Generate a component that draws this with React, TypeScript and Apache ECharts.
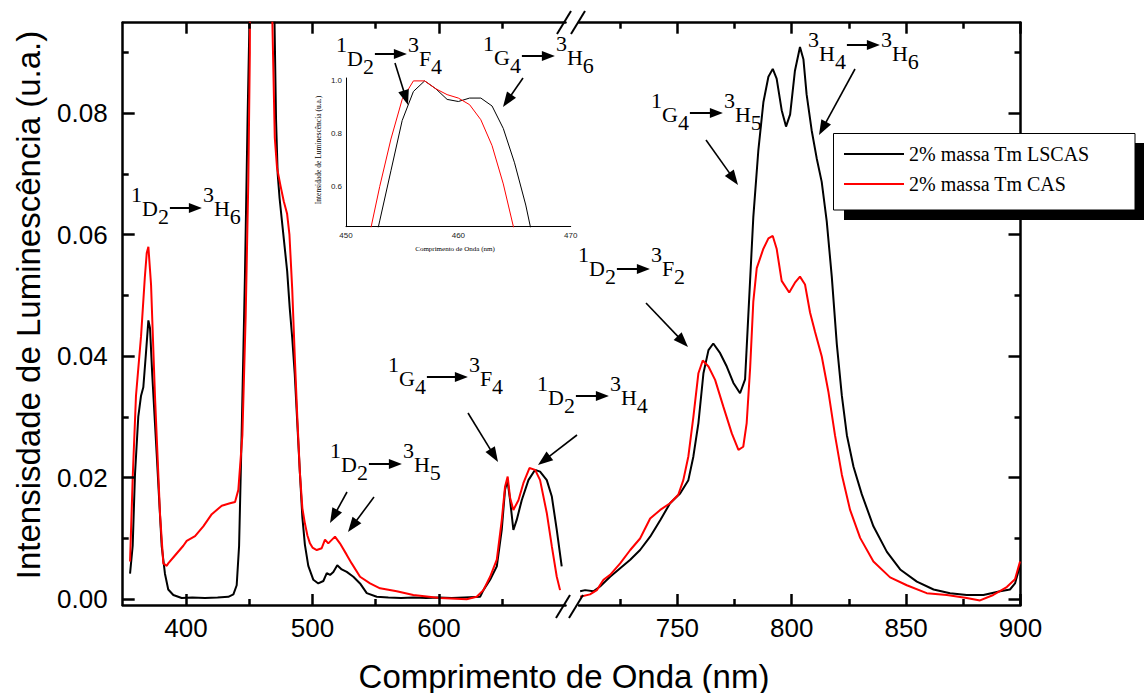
import React, { useEffect, useRef } from 'react';
import * as echarts from 'echarts';

// ---------------- DATA ----------------
const seriesNames = ['2% massa Tm LSCAS', '2% massa Tm CAS'];

const lscasLeft: [number, number][] = [
  [355.8, 0.0042], [357.9, 0.0088], [359.7, 0.0205], [362.3, 0.030], [364.5, 0.0335], [366.3, 0.0349],
  [368.2, 0.040], [370.3, 0.0459], [371.6, 0.0446], [373.4, 0.0368], [376.9, 0.0238], [380.8, 0.0088],
  [383.4, 0.0042], [386, 0.0016], [390, 0.0007], [396.6, 0.0002], [405, 0.0003], [415, 0.0002],
  [425, 0.0003], [433.5, 0.0004], [437.5, 0.0008], [440.1, 0.0023], [442, 0.0088], [444, 0.027],
  [446.6, 0.053], [448.7, 0.079], [450, 0.093], [451, 0.12], [452, 0.25], [453, 0.45], [455, 0.85],
  [457, 1.0], [460, 0.92], [462, 0.93], [464, 0.8], [466, 0.5], [467.5, 0.25], [469, 0.13], [470, 0.095],
  [471.2, 0.079], [472.5, 0.07], [474, 0.066], [476, 0.062], [478, 0.058], [480, 0.054], [482, 0.048],
  [484, 0.043], [486, 0.037], [488, 0.029], [490, 0.021], [492, 0.0135], [494, 0.009], [496.7, 0.0055],
  [500.7, 0.0032], [504.6, 0.0026], [508.6, 0.003], [511.3, 0.0043], [513.9, 0.004], [516.5, 0.0045],
  [519.6, 0.0056], [523.1, 0.0049], [527.1, 0.0045], [532.3, 0.0037], [537.6, 0.0026], [542.9, 0.001],
  [550.8, 0.0004], [560, 0.0003], [570, 0.0002], [580, 0.0003], [590, 0.0002], [600, 0.0003],
  [610, 0.0002], [620, 0.0003], [632.5, 0.0004], [635.1, 0.0015], [640.4, 0.0032], [645.7, 0.0054],
  [649.6, 0.0114], [652.2, 0.018], [654.1, 0.0196], [656.2, 0.0163], [658.8, 0.0114], [661.5, 0.0131],
  [665.4, 0.0163], [670.7, 0.0196], [676, 0.0213], [679.9, 0.021], [685.2, 0.0196], [689.2, 0.0169],
  [693.1, 0.0114], [697, 0.0054],
];

const casLeft: [number, number][] = [
  [355.8, 0.0062], [358, 0.0205], [360.5, 0.0335], [364.5, 0.0433], [367.5, 0.053], [369, 0.057],
  [370.3, 0.058], [372.4, 0.0518], [375.5, 0.0335], [379.5, 0.014], [382.1, 0.0059], [384.8, 0.0055],
  [386, 0.0059], [391.3, 0.0072], [397.9, 0.0088], [400.6, 0.0096], [407.2, 0.0104], [413.7, 0.012],
  [420.4, 0.014], [428.3, 0.0154], [434.8, 0.0158], [438.8, 0.016], [441.4, 0.018], [444.6, 0.027],
  [447.2, 0.0466], [449.3, 0.069], [450.5, 0.09], [451, 0.15], [452, 0.4], [454, 0.78], [456, 1.0],
  [457, 1.0], [460, 0.935], [462, 0.85], [464, 0.61], [465, 0.43], [466.5, 0.2], [467.5, 0.12],
  [468.3, 0.095], [470.2, 0.076], [472, 0.071], [474.8, 0.068], [477.3, 0.0655], [479.9, 0.0635],
  [481.8, 0.06], [484, 0.051], [486, 0.040], [488, 0.030], [490, 0.021], [492, 0.015], [494, 0.0125],
  [496, 0.0105], [498, 0.0092], [500, 0.0085], [503.4, 0.0081], [507.3, 0.0084], [509.9, 0.0098],
  [512.5, 0.0092], [517.8, 0.0103], [521.7, 0.0092], [527.1, 0.0073], [531, 0.0059], [537.6, 0.0037],
  [545.5, 0.0026], [553.4, 0.0018], [566.6, 0.0013], [579.7, 0.0007], [600.8, 0.0002], [621.9, 0.0],
  [629.8, 0.0004], [635.1, 0.0015], [640.4, 0.0037], [645.7, 0.0065], [649.6, 0.013], [652.2, 0.0185],
  [654.3, 0.0202], [656.2, 0.0167], [658.8, 0.0147], [662.8, 0.0163], [666.7, 0.0191], [671.5, 0.0216],
  [676, 0.0213], [679.9, 0.0196], [685.2, 0.0142], [689.2, 0.0087], [693.1, 0.0037], [695.7, 0.0015],
];

const lscasRight: [number, number][] = [
  [707.5, 0.0013], [709.7, 0.0015], [713.3, 0.0013], [716.2, 0.0021], [720.6, 0.0037], [725, 0.0051],
  [729.4, 0.0065], [733.7, 0.0081], [738.1, 0.0103], [742.5, 0.013], [746.8, 0.0158], [751.2, 0.0174],
  [754.8, 0.0196], [757, 0.0235], [759.2, 0.029], [761.4, 0.0372], [763.6, 0.041], [765.7, 0.0421],
  [768.7, 0.0405], [771.6, 0.0383], [774.5, 0.0356], [777.4, 0.0339], [779.6, 0.0362], [781, 0.0466],
  [783.2, 0.0629], [785.4, 0.0739], [787.6, 0.0818], [789.8, 0.086], [791.7, 0.0873], [793.4, 0.0857],
  [795.6, 0.0805], [797.5, 0.0778], [799.3, 0.0798], [801.4, 0.087], [803.6, 0.0909], [805.1, 0.0889],
  [806.5, 0.0831], [808.7, 0.0772], [810.9, 0.0726], [813.1, 0.0687], [815.3, 0.0622], [817.5, 0.0531],
  [819.7, 0.042], [821.9, 0.0335], [824.1, 0.027], [827, 0.0218], [830.6, 0.0173], [835.7, 0.012],
  [841.6, 0.0078], [847.4, 0.0049], [854.7, 0.0029], [862, 0.0016], [869.2, 0.001], [876.5, 0.0007],
  [883.8, 0.0007], [891.1, 0.0013], [895.4, 0.0016], [897.6, 0.0026], [899.8, 0.0055],
];

const casRight: [number, number][] = [
  [707.5, 0.0004], [711.8, 0.0008], [714.8, 0.0015], [717.7, 0.0032], [720.6, 0.004], [725, 0.0059],
  [729.4, 0.0081], [733.7, 0.010], [738.1, 0.0133], [742.5, 0.0147], [746.8, 0.0158], [750.4, 0.0172],
  [752.6, 0.0196], [754.8, 0.0235], [757, 0.030], [759.2, 0.0372], [761.1, 0.0393], [763.6, 0.0383],
  [766.5, 0.0361], [770.1, 0.0317], [773.8, 0.0273], [776.7, 0.0246], [778.8, 0.0251], [780.3, 0.029],
  [781.8, 0.038], [783.2, 0.049], [784.7, 0.0545], [787.6, 0.0577], [789.8, 0.0594], [791.7, 0.0598],
  [793.4, 0.0577], [795.6, 0.0524], [798.9, 0.0505], [801.4, 0.0521], [803.6, 0.0531], [805.8, 0.0518],
  [808, 0.0472], [810.2, 0.044], [813.1, 0.040], [816, 0.0342], [818.9, 0.027], [821.9, 0.0205],
  [825.5, 0.0147], [829.9, 0.0101], [835.7, 0.0062], [843, 0.0036], [850.3, 0.0023], [859, 0.001],
  [867.8, 0.0007], [876.5, 0.0002], [882.3, -0.0002], [888.1, 0.0007], [894, 0.002], [897.6, 0.0033],
  [899.8, 0.0062],
];

const lscasInset: [number, number][] = [
  [452, 0.28], [453, 0.47], [454, 0.66], [455, 0.85], [456, 0.96], [457, 1.0], [458, 0.97], [459, 0.93],
  [460, 0.922], [461, 0.935], [462, 0.935], [463, 0.905], [464, 0.82], [465, 0.69], [466, 0.53], [467, 0.33],
];
const casInset: [number, number][] = [
  [451, 0.25], [452, 0.40], [453, 0.60], [454, 0.78], [455, 0.93], [456, 1.0], [457, 1.0], [458, 0.97],
  [459, 0.948], [460, 0.935], [461, 0.91], [462, 0.853], [463, 0.755], [464, 0.61], [465, 0.43], [466, 0.25],
];

const leftTicks = [400, 500, 600];
const leftMinor = [450, 550, 650];
const rightTicks = [750, 800, 850, 900];
const rightMinor = [725, 775, 825, 875];
const yTicks = [0, 0.02, 0.04, 0.06, 0.08];
const yMinor = [0.01, 0.03, 0.05, 0.07, 0.09];
const insetYTicks = [0.6, 0.8, 1.0];

const transitionLabels = ['1D2>3H6', '1D2>3F4', '1G4>3H6', '1G4>3H5', '1D2>3F2', '1G4>3F4', '1D2>3H4', '3H4>3H6', '1D2>3H5'];

const xTitle = 'Comprimento de Onda (nm)';
const yTitle = 'Intensisdade de Luminescência (u.a.)';
const insetXTitle = 'Comprimento de Onda (nm)';
const insetYTitle = 'Intensidade de Luminescência (u.a.)';

// ---------------- LAYOUT ----------------
const GRID_TOP = 22.7;
const GRID_H = 582.3;
const LEFT_W = 442.8;
const RIGHT_W = 441.5;
const LEFT_MIN = 350, LEFT_MAX = 700;
const RIGHT_MIN = 707, RIGHT_MAX = 900;
const Y_MIN = -0.00095;
const Y_MAX = 0.0949;
const SANS = '"Liberation Sans", Arial, sans-serif';
const SERIF = '"Liberation Serif", "Times New Roman", serif';
const LEGEND_BOX = { x: 833.5, y: 133.5, width: 301.5, height: 76.5 };
const MAJOR_LEN = 11, MINOR_LEN = 6;

const labelPos = [
  { x: 131, y: 208, al: 33, ady: 0 },
  { x: 336, y: 58, al: 33, ady: -4 },
  { x: 483, y: 57, al: 34, ady: -1 },
  { x: 651, y: 114, al: 34, ady: -1 },
  { x: 578, y: 268, al: 34, ady: 1 },
  { x: 388, y: 378, al: 42, ady: -1 },
  { x: 537, y: 397, al: 34, ady: -1 },
  { x: 808, y: 53, al: 34, ady: -8 },
  { x: 330, y: 464, al: 34, ady: 0 },
];

const pointers = [
  [395, 63, 408, 105],
  [523, 78, 503, 107],
  [347, 492, 330, 523],
  [374, 497, 348, 532],
  [468, 413, 498, 462],
  [577, 435, 538, 465],
  [646, 303, 688, 347],
  [706, 140, 738, 185],
  [855, 69, 819, 135],
];

function arrowEls(x1: number, y1: number, x2: number, y2: number, headLen: number, headW: number, lw: number) {
  const dx = x2 - x1, dy = y2 - y1;
  const L = Math.hypot(dx, dy);
  const ux = dx / L, uy = dy / L;
  const bx = x2 - ux * headLen, by = y2 - uy * headLen;
  const px = -uy, py = ux;
  return [
    { type: 'line', z: 20, shape: { x1, y1, x2: bx + ux * 2, y2: by + uy * 2 }, style: { stroke: '#000', lineWidth: lw } },
    {
      type: 'polygon', z: 20,
      shape: { points: [[x2, y2], [bx + px * headW, by + py * headW], [bx - px * headW, by - py * headW]] },
      style: { fill: '#000' },
    },
  ];
}

// tick marks expressed in the axes' data space, drawn by the series' markLine
function tickLines(xMin: number, xMax: number, width: number, xMaj: number[], xMin2: number[], yEdgeX: number, inwardSign: number) {
  const yPerPx = (Y_MAX - Y_MIN) / GRID_H;
  const xPerPx = (xMax - xMin) / width;
  const out: any[] = [];
  const vx = (v: number, len: number) => {
    out.push([{ coord: [v, Y_MIN] }, { coord: [v, Y_MIN + len * yPerPx] }]);
    out.push([{ coord: [v, Y_MAX] }, { coord: [v, Y_MAX - len * yPerPx] }]);
  };
  xMaj.forEach((v) => vx(v, MAJOR_LEN));
  xMin2.forEach((v) => vx(v, MINOR_LEN));
  const hy = (t: number, len: number) =>
    out.push([{ coord: [yEdgeX, t] }, { coord: [yEdgeX + inwardSign * len * xPerPx, t] }]);
  yTicks.forEach((t) => hy(t, 12));
  yMinor.forEach((t) => hy(t, MINOR_LEN));
  return out;
}

export default function App() {
  const ref = useRef<HTMLDivElement>(null);

  useEffect(() => {
    if (!ref.current) return;
    const chart = echarts.init(ref.current, undefined, { renderer: 'svg' });

    const canvas = document.createElement('canvas');
    const ctx = canvas.getContext('2d')!;
    const FS = 22;
    ctx.font = `${FS}px ${SERIF}`;
    const measure = (t: string) => ctx.measureText(t).width;

    const graphics: any[] = [];

    transitionLabels.forEach((lab, i) => {
      const p = labelPos[i];
      const [left, right] = lab.split('>');
      const parts: [string, string][] = [
        [left[0], 'sup'], [left[1], 'main'], [left[2], 'sub'], ['', 'arrow'],
        [right[0], 'sup'], [right[1], 'main'], [right[2], 'sub'],
      ];
      let cx = p.x;
      parts.forEach(([t, k]) => {
        if (k === 'arrow') {
          const ay = p.y + p.ady;
          graphics.push(...arrowEls(cx + 1, ay, cx + p.al, ay, 13, 5, 2));
          cx += p.al + 1;
        } else {
          const dy = k === 'sup' ? -14 : k === 'sub' ? 8 : 0;
          graphics.push({
            type: 'text', z: 20,
            style: {
              text: t, x: cx, y: p.y + dy, fontSize: FS, fontFamily: SERIF, fill: '#000',
              textAlign: 'left', verticalAlign: 'middle', textVerticalAlign: 'middle',
            },
          });
          cx += measure(t);
        }
      });
    });

    pointers.forEach(([a, b, c, d]) => graphics.push(...arrowEls(a, b, c, d, 15, 5.5, 1.6)));

    const slashes = [
      [557, 34, 571, 11], [571, 34, 585, 11],
      [556, 618, 570, 595], [569, 618, 583, 595],
    ];
    slashes.forEach(([x1, y1, x2, y2]) =>
      graphics.push({ type: 'line', z: 20, shape: { x1, y1, x2, y2 }, style: { stroke: '#000', lineWidth: 2 } })
    );

    graphics.push({ type: 'rect', z: 40, shape: { x: LEGEND_BOX.x + 10.5, y: LEGEND_BOX.y + 9.5, width: 302, height: 77 }, style: { fill: '#000' } });
    graphics.push({ type: 'rect', z: 41, shape: { ...LEGEND_BOX }, style: { fill: '#fff', stroke: '#000', lineWidth: 1 } });

    graphics.push({
      type: 'text', z: 20,
      style: { text: xTitle, x: 564, y: 676, fontSize: 33, fontFamily: SANS, fill: '#000', textAlign: 'center', verticalAlign: 'middle', textVerticalAlign: 'middle' },
    });
    graphics.push({
      type: 'text', z: 20, x: 28, y: 305, rotation: Math.PI / 2,
      style: { text: yTitle, x: 0, y: 0, fontSize: 33, fontFamily: SANS, fill: '#000', textAlign: 'center', verticalAlign: 'middle', textVerticalAlign: 'middle' },
    });
    graphics.push({
      type: 'text', z: 20,
      style: { text: insetXTitle, x: 455, y: 249, fontSize: 7, fontFamily: SERIF, fill: '#000', textAlign: 'center', verticalAlign: 'middle', textVerticalAlign: 'middle' },
    });
    graphics.push({
      type: 'text', z: 20, x: 318, y: 150, rotation: Math.PI / 2,
      style: { text: insetYTitle, x: 0, y: 0, fontSize: 7.5, fontFamily: SERIF, fill: '#000', textAlign: 'center', verticalAlign: 'middle', textVerticalAlign: 'middle' },
    });

    const lineStyleAxis = { color: '#000', width: 2.5 };
    const tickLabel = { fontSize: 26, fontFamily: SANS, color: '#000' };

    const xAx = (grid: number, pos: string, min: number, max: number, ticks: number[] | null) => ({
      type: 'value', gridIndex: grid, position: pos, min, max,
      axisLine: { show: true, onZero: false, lineStyle: lineStyleAxis },
      axisTick: { show: false },
      axisLabel: ticks ? { show: true, customValues: ticks, margin: 10, ...tickLabel } : { show: false },
      splitLine: { show: false },
    });
    const yAx = (grid: number, pos: string, labels: boolean) => ({
      type: 'value', gridIndex: grid, position: pos, min: Y_MIN, max: Y_MAX,
      axisLine: { show: true, onZero: false, lineStyle: lineStyleAxis },
      axisTick: { show: false },
      axisLabel: labels
        ? { show: true, customValues: yTicks, margin: 15, formatter: (v: number) => v.toFixed(2), ...tickLabel }
        : { show: false },
      splitLine: { show: false },
    });

    const tickMarkLine = (data: any[]) => ({
      silent: true, symbol: ['none', 'none'], animation: false,
      label: { show: false }, emphasis: { disabled: true },
      lineStyle: { color: '#000', width: 2.5, type: 'solid' },
      data,
    });

    const mainLine = (name: string, data: [number, number][], color: string, xi: number, yi: number, w: number, ticks?: any[]) => ({
      type: 'line', name, data, xAxisIndex: xi, yAxisIndex: yi, showSymbol: false, symbol: 'none',
      color, lineStyle: { color, width: w }, animation: false, clip: true, z: color === '#ff0000' ? 3 : 2,
      ...(ticks ? { markLine: tickMarkLine(ticks) } : {}),
    });

    chart.setOption({
      animation: false,
      backgroundColor: '#fff',
      grid: [
        { left: 122.7, top: GRID_TOP, width: LEFT_W, height: GRID_H, show: false },
        { left: 579, top: GRID_TOP, width: RIGHT_W, height: GRID_H, show: false },
        { left: 346, top: 78, width: 224.7, height: 148.7, show: false },
      ],
      xAxis: [
        xAx(0, 'bottom', LEFT_MIN, LEFT_MAX, leftTicks),
        xAx(0, 'top', LEFT_MIN, LEFT_MAX, null),
        xAx(1, 'bottom', RIGHT_MIN, RIGHT_MAX, rightTicks),
        xAx(1, 'top', RIGHT_MIN, RIGHT_MAX, null),
        {
          type: 'value', gridIndex: 2, position: 'bottom', min: 450, max: 470, interval: 10,
          axisLine: { show: true, onZero: false, lineStyle: { color: '#000', width: 1 } },
          axisTick: { show: false },
          axisLabel: { show: true, margin: 5, fontSize: 8, fontFamily: SANS, color: '#222' },
          splitLine: { show: false },
        },
      ],
      yAxis: [
        yAx(0, 'left', true),
        yAx(1, 'right', false),
        {
          type: 'value', gridIndex: 2, position: 'left', min: 0.448, max: 1.011,
          axisLine: { show: true, onZero: false, lineStyle: { color: '#000', width: 1 } },
          axisTick: { show: false },
          axisLabel: { show: true, customValues: insetYTicks, margin: 4, fontSize: 8, fontFamily: SANS, color: '#222', formatter: (v: number) => v.toFixed(1) },
          splitLine: { show: false },
        },
      ],
      legend: {
        show: true, data: seriesNames, left: 839, top: 139, orient: 'vertical',
        itemWidth: 60, itemHeight: 2, itemGap: 10, icon: 'rect', z: 50,
        textStyle: { fontFamily: SERIF, fontSize: 20, color: '#000' },
        selectedMode: false,
      },
      series: [
        mainLine(seriesNames[0], lscasLeft, '#000000', 0, 0, 2,
          tickLines(LEFT_MIN, LEFT_MAX, LEFT_W, leftTicks, leftMinor, LEFT_MIN, 1)),
        mainLine(seriesNames[1], casLeft, '#ff0000', 0, 0, 2),
        mainLine(seriesNames[0], lscasRight, '#000000', 2, 1, 2,
          tickLines(RIGHT_MIN, RIGHT_MAX, RIGHT_W, rightTicks, rightMinor, RIGHT_MAX, -1)),
        mainLine(seriesNames[1], casRight, '#ff0000', 2, 1, 2),
        mainLine(seriesNames[0], lscasInset, '#000000', 4, 2, 1),
        mainLine(seriesNames[1], casInset, '#ff0000', 4, 2, 1),
      ],
      graphic: graphics,
    });

    return () => chart.dispose();
  }, []);

  return <div ref={ref} style={{ position: 'absolute', left: 0, top: 0, width: 1144, height: 693 }} />;
}
